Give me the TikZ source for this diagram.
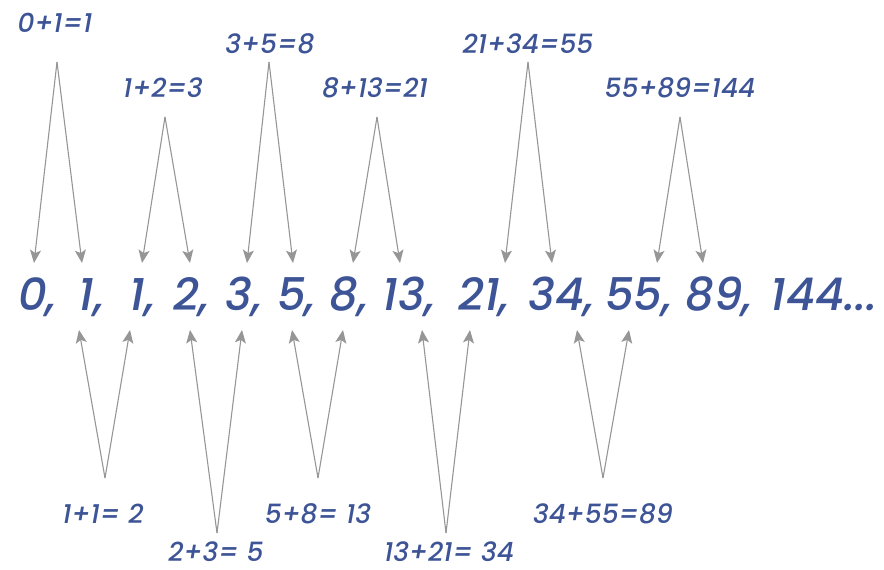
\documentclass[tikz,border=0pt]{standalone}
\usepackage{fontspec}
\setmainfont{Poppins}[UprightFont=* Medium, ItalicFont=* Medium Italic]
\usetikzlibrary{arrows.meta}
\definecolor{fibblue}{RGB}{61,84,150}
\definecolor{arrgray}{RGB}{150,150,150}
\tikzset{
  num/.style={anchor=base,inner sep=0pt,text=fibblue,font=\fontsize{45}{45}\selectfont\itshape},
  lab/.style={anchor=base,inner sep=0pt,text=fibblue,font=\fontsize{26.5}{26.5}\selectfont\itshape},
  arr/.style={draw=arrgray,line width=1.1pt,-{Stealth[length=13pt,width=11pt,inset=3pt]}}
}
\begin{document}
\begin{tikzpicture}[x=1pt,y=-1pt]
\useasboundingbox (0,0) rectangle (884,570);
% sequence
\node[num] (n0) at (37.5,310) {0,};
\node[num] (n1) at (91.5,310) {1,};
\node[num] (n2) at (142.5,310) {1,};
\node[num] (n3) at (191.5,310) {2,};
\node[num] (n4) at (244,310) {3,};
\node[num] (n5) at (296.5,310) {5,};
\node[num] (n6) at (349,310) {8,};
\node[num] (n7) at (409,310) {13,};
\node[num] (n8) at (484,310) {21,};
\node[num] (n9) at (561.5,310) {34,};
\node[num] (n10) at (639,310) {55,};
\node[num] (n11) at (719,310) {89,};
\node[num] (n12) at (824,310) {144...};
% top labels
\node[lab] (t1) at (55,32) {0+1=1};
\node[lab] (t2) at (163,97) {1+2=3};
\node[lab] (t3) at (270,53) {3+5=8};
\node[lab] (t4) at (375,97) {8+13=21};
\node[lab] (t5) at (528,53) {21+34=55};
\node[lab] (t6) at (680,97) {55+89=144};
% bottom labels
\node[lab] (b1) at (103,523) {1+1= 2};
\node[lab] (b2) at (216,561) {2+3= 5};
\node[lab] (b3) at (318,523) {5+8= 13};
\node[lab] (b4) at (449,561) {13+21= 34};
\node[lab] (b5) at (603,523) {34+55=89};
% top apexes and tips
\coordinate (ta1) at (57,62);  \coordinate (tl1) at (34,263);  \coordinate (tr1) at (82,263);
\coordinate (ta2) at (165,117); \coordinate (tl2) at (142,263); \coordinate (tr2) at (190,263);
\coordinate (ta3) at (269,62);  \coordinate (tl3) at (247,263); \coordinate (tr3) at (293,263);
\coordinate (ta4) at (377,117); \coordinate (tl4) at (353,263); \coordinate (tr4) at (400,263);
\coordinate (ta5) at (528,62);  \coordinate (tl5) at (505,263); \coordinate (tr5) at (552,263);
\coordinate (ta6) at (680,117); \coordinate (tl6) at (657,263); \coordinate (tr6) at (703,263);
\foreach \i in {1,...,6}{
  \draw[arr] (ta\i) -- (tl\i);
  \draw[arr] (ta\i) -- (tr\i);
}
% bottom apexes and tips
\coordinate (ba1) at (105,478); \coordinate (bl1) at (79,330);  \coordinate (br1) at (130,330);
\coordinate (ba2) at (217,533); \coordinate (bl2) at (190,330); \coordinate (br2) at (242,330);
\coordinate (ba3) at (318,478); \coordinate (bl3) at (292,330); \coordinate (br3) at (343,330);
\coordinate (ba4) at (446,533); \coordinate (bl4) at (422,330); \coordinate (br4) at (470,330);
\coordinate (ba5) at (603,478); \coordinate (bl5) at (577,330); \coordinate (br5) at (629,330);
\foreach \i in {1,...,5}{
  \draw[arr] (ba\i) -- (bl\i);
  \draw[arr] (ba\i) -- (br\i);
}
\end{tikzpicture}
\end{document}
